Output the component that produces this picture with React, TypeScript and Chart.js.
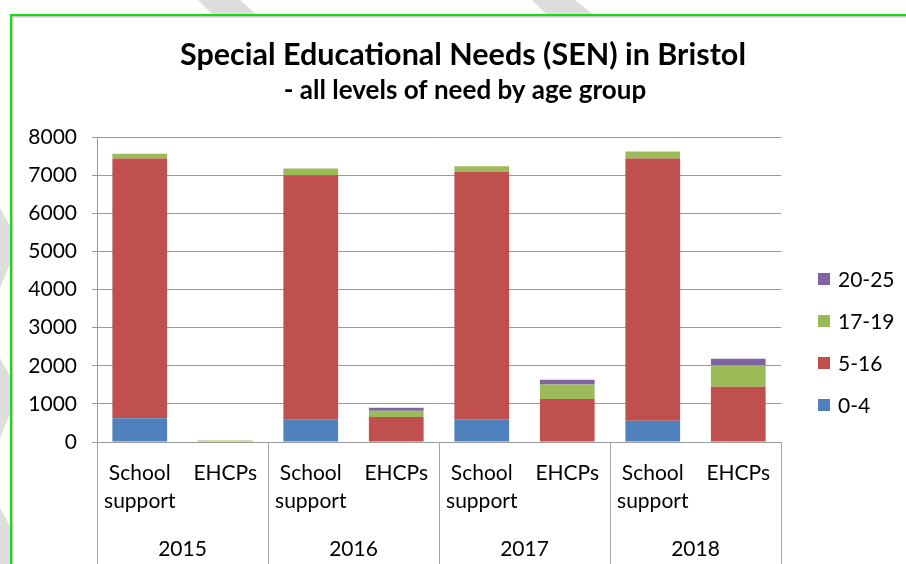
import React, { useEffect, useRef } from "react";
import { Chart, registerables } from "chart.js";

Chart.register(...registerables);

// ---- data ----
const categories: (string | string[])[] = [
  ["School", "support"], "EHCPs",
  ["School", "support"], "EHCPs",
  ["School", "support"], "EHCPs",
  ["School", "support"], "EHCPs",
];
const years = ["2015", "2016", "2017", "2018"];
const ageGroups = ["0-4", "5-16", "17-19", "20-25"];
const age0to4 = [620, 0, 595, 0, 595, 0, 560, 0];
const age5to16 = [6815, 0, 6405, 655, 6490, 1130, 6875, 1450];
const age17to19 = [125, 40, 175, 165, 145, 375, 185, 560];
const age20to25 = [0, 0, 0, 80, 0, 130, 0, 175];
const yMin = 0;
const yMax = 8000;
const yStep = 1000;
const titleText = "Special Educational Needs (SEN) in Bristol";
const subtitleText = "- all levels of need by age group";

// ---- styles ----
const seriesData = [age0to4, age5to16, age17to19, age20to25];
const colors = ["#4F81BD", "#C0504D", "#9BBB59", "#8064A2"];
const FONT = "Lato, 'Open Sans', 'DejaVu Sans', sans-serif";
const GRID = "#999999";
const SEP = "#a6a6a6";

const decor = {
  id: "decor",
  beforeDraw(chart: any) {
    const { ctx, width, height } = chart;
    ctx.save();
    ctx.fillStyle = "#ffffff";
    ctx.fillRect(0, 0, width, height);
    // grey background stripes outside the frame
    ctx.fillStyle = "#dddddd";
    const polys = [
      [[198, 0], [240, 0], [256, 14], [212, 14]],
      [[532, 0], [575, 0], [593, 14], [546, 14]],
      [[0, 208], [10, 226], [10, 264], [0, 288]],
      [[0, 358], [10, 376], [10, 414], [0, 438]],
      [[0, 508], [10, 526], [10, 564], [0, 564]],
    ];
    for (const p of polys) {
      ctx.beginPath();
      ctx.moveTo(p[0][0], p[0][1]);
      for (let i = 1; i < p.length; i++) ctx.lineTo(p[i][0], p[i][1]);
      ctx.closePath();
      ctx.fill();
    }
    // frame
    ctx.fillStyle = "#c8c8c8";
    ctx.fillRect(12, 16, width - 12, 1.5);
    ctx.fillRect(12, 16, 1.5, height - 16);
    ctx.fillStyle = "#11dd11";
    ctx.fillRect(10, 14, width - 10, 2);
    ctx.fillRect(10, 14, 2, height - 14);
    ctx.restore();
  },
  afterDraw(chart: any) {
    const { ctx, height } = chart;
    const x = chart.scales.x;
    ctx.save();
    // group separators under the category axis
    ctx.strokeStyle = SEP;
    ctx.lineWidth = 1;
    const groups = years.length;
    for (let i = 0; i <= groups; i++) {
      const px = Math.round(x.left + (i * (x.right - x.left)) / groups) + 0.5;
      ctx.beginPath();
      ctx.moveTo(px, x.top);
      ctx.lineTo(px, height);
      ctx.stroke();
    }
    // titles
    ctx.fillStyle = "#000000";
    ctx.textAlign = "center";
    ctx.textBaseline = "alphabetic";
    ctx.font = `bold 30.5px ${FONT}`;
    ctx.fillText(titleText, 463, 65);
    ctx.font = `bold 26px ${FONT}`;
    ctx.fillText(subtitleText, 465, 99);
    // legend (reversed order)
    ctx.textAlign = "left";
    ctx.textBaseline = "middle";
    ctx.font = `21px ${FONT}`;
    const ds = chart.data.datasets;
    for (let k = 0; k < ds.length; k++) {
      const d = ds[ds.length - 1 - k];
      const cy = 279 + k * 42;
      ctx.fillStyle = d.backgroundColor;
      ctx.fillRect(818, cy - 6, 12, 12);
      ctx.fillStyle = "#000000";
      ctx.fillText(d.label, 838, cy + 1);
    }
    ctx.restore();
  },
};

export default function App() {
  const ref = useRef<HTMLCanvasElement>(null);
  useEffect(() => {
    const canvas = ref.current!;
    const tickFont = { family: FONT, size: 21, lineHeight: 28 / 21 };
    const chart = new Chart(canvas, {
      type: "bar",
      data: {
        labels: categories,
        datasets: ageGroups.map((g, i) => ({
          label: g,
          data: seriesData[i],
          backgroundColor: colors[i],
          borderWidth: 0,
          barPercentage: 0.64,
          categoryPercentage: 1,
        })),
      },
      options: {
        responsive: false,
        animation: false,
        devicePixelRatio: 1,
        layout: { padding: { top: 137, right: 125, left: 0, bottom: 0 } },
        plugins: {
          legend: { display: false },
          title: { display: false },
          tooltip: { enabled: false },
        },
        scales: {
          x: {
            stacked: true,
            weight: 0,
            grid: { display: false },
            border: { display: true, color: GRID },
            ticks: {
              autoSkip: false,
              maxRotation: 0,
              minRotation: 0,
              padding: 9,
              color: "#000000",
              font: tickFont,
            },
            afterFit: (s: any) => {
              s.height = 76;
            },
          },
          x2: {
            type: "category",
            labels: years,
            position: "bottom",
            weight: 1,
            offset: true,
            grid: { display: false },
            border: { display: false },
            ticks: {
              autoSkip: false,
              maxRotation: 0,
              minRotation: 0,
              padding: 9,
              color: "#000000",
              font: tickFont,
            },
            afterFit: (s: any) => {
              s.height = 46;
            },
          },
          y: {
            stacked: true,
            min: yMin,
            max: yMax,
            ticks: {
              stepSize: yStep,
              padding: 15,
              color: "#000000",
              font: { family: FONT, size: 21 },
              callback: (v: any) => String(v),
            },
            grid: { color: GRID, tickLength: 5 },
            border: { color: GRID },
            afterFit: (s: any) => {
              s.width = 97;
            },
          },
        },
      } as any,
      plugins: [decor],
    });
    return () => chart.destroy();
  }, []);
  return (
    <div style={{ position: "absolute", left: 0, top: 0, width: 906, height: 564 }}>
      <canvas ref={ref} width={906} height={564} style={{ width: 906, height: 564, display: "block" }} />
    </div>
  );
}
